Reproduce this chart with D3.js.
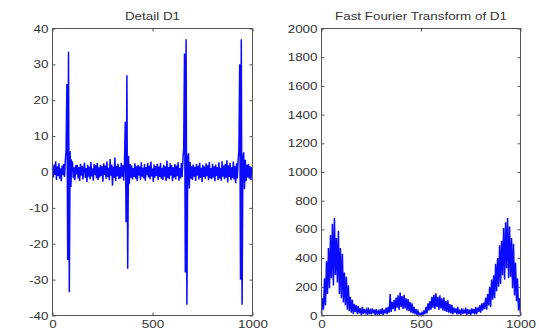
<!DOCTYPE html>
<html>
<head>
<meta charset="utf-8">
<script src="https://cdn.jsdelivr.net/npm/d3@7"></script>
<style>
  body { margin: 0; background: #fff; }
  text { font-family: "Liberation Sans", Arial, sans-serif; fill: #333; }
</style>
</head>
<body>
<div id="chart"></div>
<script>
// detail coefficients D1, one sample every 4 steps (x = 0..996)
let d1Step = 4;
let d1Values = [
  1.2, -1.5, 2.1, -0.8, 3.0, -2.2, 1.6, -1.1, 2.4, -1.9,
  1.0, -2.6, 1.8, -0.9, 2.2, -1.4, 3.1, 6.2, 24.5, -24.5,
  33.5, -33.5, 5.8, -4.2, 3.0, 2.6, -1.7, 1.3, -2.3, 1.9,
  -0.7, 2.0, -1.8, 1.4, -2.5, 2.3, -1.0, 1.7, -2.1, 0.9,
  2.6, -1.6, 1.1, -2.8, 2.0, -1.3, 1.5, -2.0, 2.8, -1.2,
  1.0, -2.4, 2.2, -0.9, 1.9, -1.7, 2.5, -2.2, 1.3, -1.5,
  2.0, -1.1, 1.6, -2.7, 2.4, -0.8, 1.8, -1.9, 2.9, -1.4,
  1.2, -2.3, 3.6, -1.0, 2.1, -3.8, 1.5, -1.6, 4.0, -2.5,
  1.7, -1.2, 2.3, -2.0, 1.4, -1.8, 2.6, -1.3, 1.9, -2.4,
  3.0, 14.0, -14.0, 27.0, -27.0, 4.5, -3.4, 2.2, -1.6, 1.8,
  -2.1, 1.1, -1.4, 2.4, -1.9, 1.6, -2.6, 2.0, -1.0, 1.5,
  -2.2, 2.7, -1.3, 1.2, -1.8, 2.2, -2.4, 1.4, -0.9, 2.5,
  -1.5, 1.8, -2.0, 2.9, -1.2, 1.0, -2.7, 2.1, -1.6, 1.7,
  -1.1, 2.3, -2.3, 1.5, -1.4, 2.6, -1.9, 1.2, -2.2, 2.0,
  -1.3, 1.6, -2.5, 3.2, -1.7, 1.4, -2.0, 2.4, -1.0, 1.9,
  -2.6, 1.3, -1.5, 2.2, -2.1, 1.8, -1.2, 2.7, -2.4, 1.1,
  -1.8, 2.5, -1.4, 3.4, 6.5, 33.0, -28.0, 37.0, -37.0, 4.0,
  5.2, -4.6, 2.8, -1.9, 1.6, -2.2, 2.1, -1.3, 1.4, -2.5,
  2.2, -1.0, 1.7, -2.1, 2.6, -1.6, 1.2, -2.8, 2.0, -1.4,
  1.5, -1.9, 2.4, -1.2, 1.9, -2.3, 2.8, -1.7, 1.1, -2.0,
  2.3, -1.5, 1.6, -2.6, 2.1, -1.1, 1.4, -2.2, 2.7, -1.8,
  1.2, -2.4, 3.0, -1.3, 1.8, -2.0, 2.2, -1.6, 3.3, -2.9,
  1.9, -1.4, 2.5, -2.3, 1.3, -1.7, 2.9, -2.1, 1.6, -3.1,
  2.4, -1.8, 3.2, 6.0, 30.0, -30.0, 37.0, -37.0, 4.0, 5.5,
  -4.8, 3.4, -2.6, 2.0, -1.5, 2.3, -1.9, 1.6, -2.2, 1.4
];

// |FFT(D1)|, one sample every 5 steps (x = 0..1000)
let fftStep = 5;
let fftValues = [
  15, 120, 40, 260, 70, 380, 150, 470, 190, 560,
  260, 640, 210, 680, 280, 540, 230, 590, 150, 470,
  120, 430, 90, 300, 70, 270, 40, 210, 30, 130,
  20, 110, 10, 80, 25, 70, 10, 65, 15, 50,
  5, 60, 10, 45, 20, 40, 5, 55, 10, 35,
  8, 50, 15, 40, 5, 45, 10, 30, 5, 42,
  10, 50, 5, 40, 15, 55, 10, 60, 20, 150,
  25, 95, 45, 110, 30, 125, 55, 140, 40, 160,
  60, 135, 45, 145, 50, 120, 35, 115, 30, 95,
  20, 85, 15, 60, 10, 45, 5, 30, 2, 15,
  0, 20, 5, 35, 10, 60, 15, 85, 35, 100,
  40, 130, 55, 145, 45, 155, 60, 130, 40, 140,
  50, 120, 35, 125, 30, 100, 25, 105, 20, 80,
  15, 75, 10, 55, 20, 50, 8, 60, 10, 40,
  5, 50, 10, 35, 15, 55, 5, 45, 10, 40,
  5, 50, 15, 45, 8, 60, 10, 55, 25, 70,
  20, 85, 35, 90, 45, 125, 40, 150, 70, 200,
  60, 250, 110, 280, 120, 360, 170, 400, 200, 490,
  220, 520, 280, 610, 250, 650, 330, 680, 260, 620,
  270, 540, 190, 500, 140, 370, 100, 260, 35, 120,
  10
];

let xTicks = [0, 500, 1000];
let d1Ticks = [-40, -30, -20, -10, 0, 10, 20, 30, 40];
let fftTicks = [0, 200, 400, 600, 800, 1000, 1200, 1400, 1600, 1800, 2000];

let width = 539, height = 335;
let stretch = 1.22; // text looks horizontally stretched in the picture
let lineColor = "#0a0aff";

let svg = d3.select("#chart").append("svg")
  .attr("width", width)
  .attr("height", height);

let plain = d => String(d);

function panel(opts) {
  let x = d3.scaleLinear().domain([0, 1000]).range([opts.left, opts.right]);
  let y = d3.scaleLinear().domain(opts.yDomain).range([opts.bottom, opts.top]);
  let g = svg.append("g");

  // mirrored inward ticks on all four sides
  g.append("g").attr("transform", `translate(0,${opts.bottom})`)
    .call(d3.axisBottom(x).tickValues(xTicks).tickSize(-3).tickSizeOuter(0).tickPadding(5).tickFormat(plain));
  g.append("g").attr("transform", `translate(0,${opts.top})`)
    .call(d3.axisTop(x).tickValues(xTicks).tickSize(-3).tickSizeOuter(0).tickFormat(""));
  g.append("g").attr("transform", `translate(${opts.left},0)`)
    .call(d3.axisLeft(y).tickValues(opts.yTicks).tickSize(-3).tickSizeOuter(0).tickPadding(4).tickFormat(plain));
  g.append("g").attr("transform", `translate(${opts.right},0)`)
    .call(d3.axisRight(y).tickValues(opts.yTicks).tickSize(-3).tickSizeOuter(0).tickFormat(""));

  g.selectAll(".domain").remove();
  g.selectAll(".tick line").attr("stroke", "#555");
  g.selectAll(".tick text").attr("fill", "#333").style("font-size", "11px");

  // stretch labels sideways, keep anchor positions
  g.selectAll("text").each(function() {
    let t = d3.select(this);
    let tx = +t.attr("x") || 0;
    t.attr("x", tx / stretch).attr("transform", `scale(${stretch},1)`);
  });

  let line = d3.line()
    .x((d, i) => x(i * opts.step))
    .y(d => y(d));

  g.append("path")
    .datum(opts.values)
    .attr("fill", "none")
    .attr("stroke", lineColor)
    .attr("stroke-width", 1.5)
    .attr("stroke-linejoin", "miter")
    .attr("d", line);

  g.append("rect")
    .attr("x", opts.left).attr("y", opts.top)
    .attr("width", opts.right - opts.left)
    .attr("height", opts.bottom - opts.top)
    .attr("fill", "none").attr("stroke", "#555").attr("stroke-width", 1);

  g.append("text")
    .attr("x", (opts.left + opts.right) / 2 / stretch)
    .attr("y", 20)
    .attr("transform", `scale(${stretch},1)`)
    .attr("text-anchor", "middle")
    .style("font-size", "11px")
    .text(opts.title);
}

panel({
  left: 52.5, right: 252.5, top: 28.5, bottom: 315.5,
  yDomain: [-40, 40], yTicks: d1Ticks,
  values: d1Values, step: d1Step,
  title: "Detail D1"
});

panel({
  left: 321.5, right: 520.5, top: 28.5, bottom: 315.5,
  yDomain: [0, 2000], yTicks: fftTicks,
  values: fftValues, step: fftStep,
  title: "Fast Fourier Transform of D1"
});
</script>
</body>
</html>
